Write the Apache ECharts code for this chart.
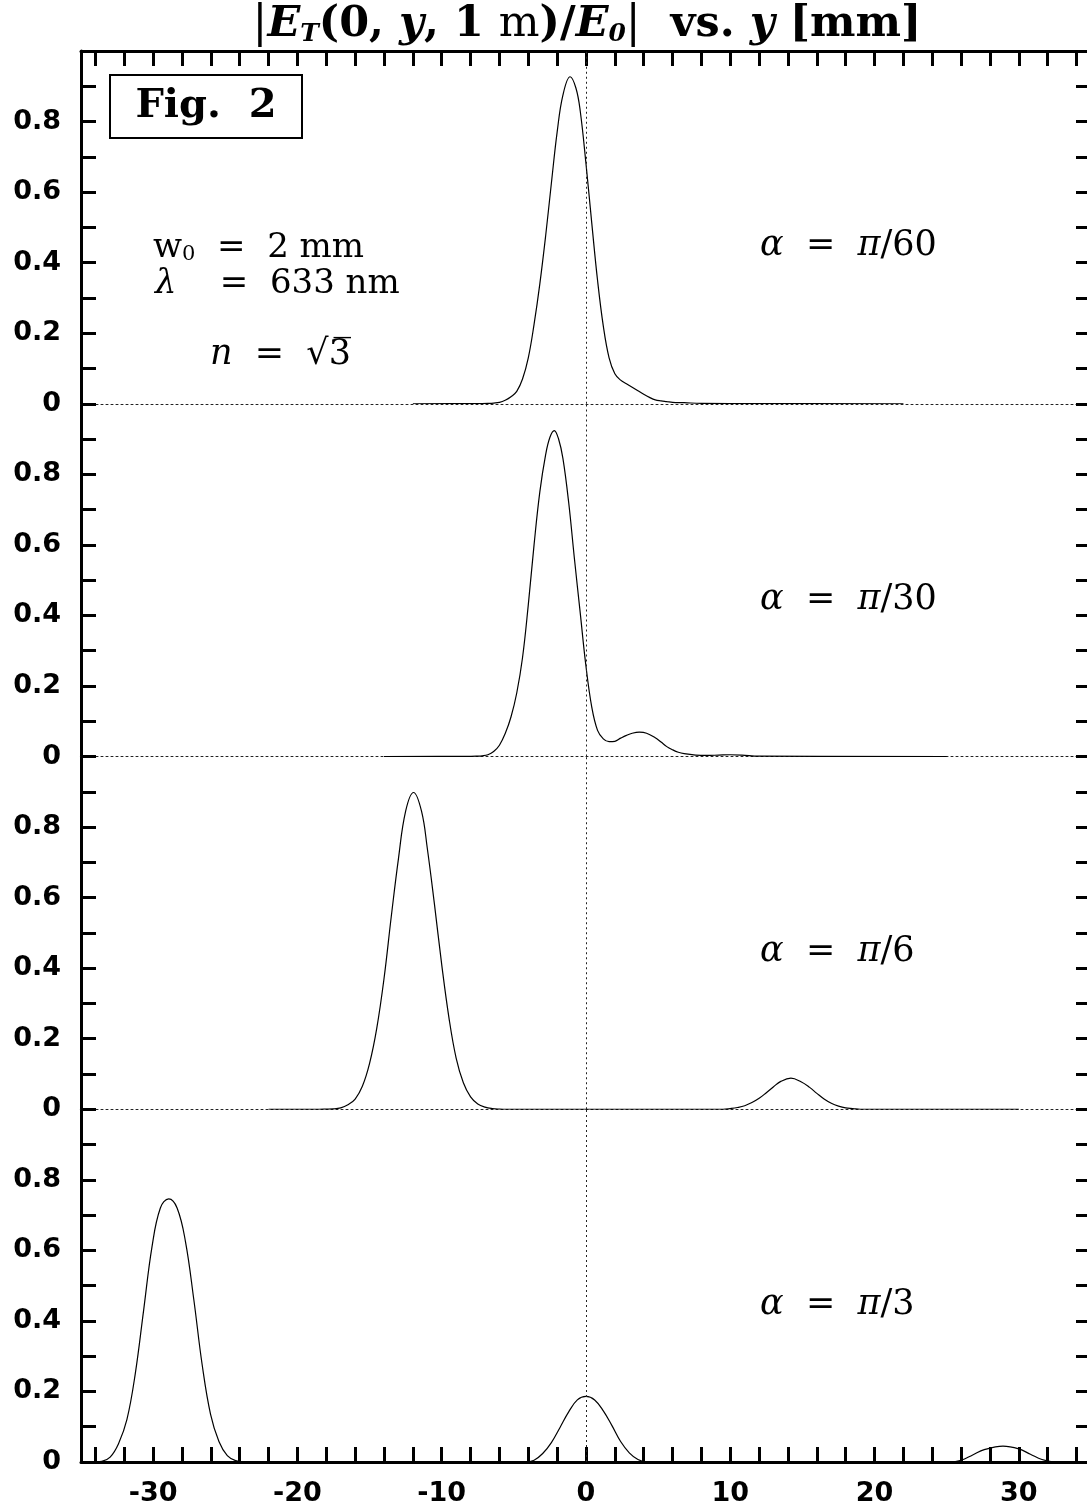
<!DOCTYPE html>
<html><head><meta charset="utf-8">
<script src="https://cdn.jsdelivr.net/npm/echarts@6/dist/echarts.min.js"></script>
<style>html,body{margin:0;padding:0;background:#fff}#c{width:1087px;height:1510px}</style>
</head><body><div id="c"></div>
<script>
// ---- tick / label values ----
const xTickValues = [-34,-32,-30,-28,-26,-24,-22,-20,-18,-16,-14,-12,-10,-8,-6,-4,-2,0,2,4,6,8,10,12,14,16,18,20,22,24,26,28,30,32,34];
const xLabelValues = [-30,-20,-10,0,10,20,30];
const yLabelValues = [0,0.2,0.4,0.6,0.8];
const panelAlpha = ['60','30','6','3'];

// ---- panel 1: alpha = pi/60 (y in mm, |E_T/E_0|) ----
const y1 = [-12,-8,-7.2,-6.8,-6.4,-6.0,-5.6,-5.2,-4.8,-4.4,-4.0,-3.6,-3.2,-2.8,-2.4,-2.0,-1.6,-1.1,-0.7,-0.4,0.0,0.4,0.8,1.2,1.6,2.0,2.4,2.8,3.2,3.6,4.0,4.4,4.8,5.2,5.6,6.0,6.8,8,12,22];
const e1 = [0,0.0003,0.0005,0.001,0.002,0.004,0.010,0.02,0.035,0.07,0.13,0.225,0.34,0.475,0.625,0.77,0.875,0.927,0.895,0.83,0.68,0.512,0.35,0.22,0.13,0.085,0.067,0.057,0.047,0.037,0.027,0.018,0.011,0.008,0.006,0.004,0.003,0.001,0.0005,0];
// ---- panel 2: alpha = pi/30 ----
const y2 = [-14,-8.4,-8.0,-7.6,-7.2,-6.8,-6.4,-6.0,-5.6,-5.2,-4.8,-4.4,-4.0,-3.6,-3.2,-2.8,-2.5,-2.2,-1.9,-1.6,-1.2,-0.8,-0.4,0.0,0.4,0.8,1.2,1.6,2.0,2.4,2.8,3.2,3.7,4.2,4.8,5.2,5.6,6.0,6.4,6.8,7.6,8.4,9.2,10.0,10.8,12,25];
const e2 = [0,0.0003,0.0005,0.001,0.002,0.005,0.014,0.032,0.065,0.112,0.18,0.28,0.43,0.6,0.75,0.855,0.905,0.924,0.9,0.845,0.72,0.56,0.407,0.255,0.14,0.074,0.05,0.042,0.043,0.052,0.06,0.066,0.069,0.066,0.053,0.041,0.028,0.019,0.012,0.008,0.004,0.003,0.004,0.005,0.004,0.001,0];
// ---- panel 3: alpha = pi/6 ----
const y3 = [-22,-18.5,-18,-17.5,-17,-16.5,-16,-15.5,-15,-14.5,-14,-13.5,-13,-12.5,-11.95,-11.4,-11,-10.5,-10,-9.5,-9,-8.5,-8,-7.5,-7,-6.5,-6,-5.5,0,9.5,10,10.5,11,11.5,12,12.5,13,13.5,14.2,14.9,15.5,16,16.5,17,17.5,18,18.5,19,30];
const e3 = [0,0,0.0004,0.001,0.004,0.013,0.029,0.065,0.13,0.23,0.37,0.545,0.71,0.845,0.898,0.845,0.74,0.58,0.41,0.26,0.145,0.075,0.035,0.015,0.006,0.002,0.0005,0,0,0,0.002,0.005,0.01,0.019,0.031,0.047,0.064,0.079,0.088,0.078,0.062,0.045,0.029,0.017,0.009,0.004,0.002,0,0];
// ---- panel 4: alpha = pi/3 ----
const y4 = [-34.2,-33.56,-32.98,-32.4,-31.82,-31.24,-30.66,-30.08,-29.5,-28.92,-28.34,-27.76,-27.18,-26.6,-26.02,-25.44,-24.86,-24.28,-23.7,-10,-4.8,-4.2,-3.6,-3.0,-2.4,-1.8,-1.2,-0.6,0,0.6,1.2,1.8,2.4,3.0,3.6,4.2,4.8,15,24.4,25.2,26.0,26.8,27.6,28.9,30.0,30.8,31.6,32.4];
const e4 = [0,0.002,0.014,0.052,0.12,0.25,0.43,0.61,0.72,0.746,0.72,0.625,0.46,0.275,0.135,0.058,0.018,0.004,0,0,0,0,0.005,0.024,0.055,0.098,0.142,0.176,0.186,0.176,0.145,0.103,0.058,0.026,0.007,0,0,0,0,0,0.005,0.02,0.035,0.045,0.037,0.022,0.007,0];

const panels = [[y1,e1],[y2,e2],[y3,e3],[y4,e4]];

const TOP = 51, PH = 352.75, LEFT = 81, W = 1010;
const grids = [], xAxes = [], yAxes = [], series = [];
const tickStyle = {show:true, inside:true, length:15, lineStyle:{color:'#000', width:3}};
const labelFont = {color:'#000', fontFamily:'DejaVu Sans', fontWeight:'bold', fontSize:27};

panels.forEach((p, i) => {
  grids.push({left: LEFT, width: W, top: TOP + i*PH, height: PH, outerBoundsMode:'none', containLabel:false});
  const last = i === 3;
  xAxes.push({
    type:'value', gridIndex:i, min:-35, max:35, position:'bottom',
    axisLine:{show:true, onZero:false, lineStyle: last ? {color:'#000', width:3} : {color:'#222', width:1, type:[2,3]}},
    axisTick: last ? Object.assign({customValues: xTickValues}, tickStyle) : {show:false},
    axisLabel: last ? Object.assign({show:true, customValues: xLabelValues, margin:18}, labelFont) : {show:false},
    splitLine:{show:false}
  });
  yAxes.push({
    type:'value', gridIndex:i, min:0, max:1, interval:0.1, position:'left',
    axisLine:{show:true, onZero:false, lineStyle:{color:'#000', width:3}},
    axisTick: tickStyle,
    axisLabel: Object.assign({show:true, customValues: yLabelValues, margin:20,
      formatter: v => (v === 0 ? '0' : String(Math.round(v*10)/10))}, labelFont),
    splitLine:{show:false}
  });
  series.push({
    type:'line', xAxisIndex:i, yAxisIndex:i, data: p[0].map((x,k)=>[x, p[1][k]]),
    showSymbol:false, smooth:0.4, lineStyle:{color:'#000', width:1.2}, silent:true,
    markLine:{silent:true, symbol:['none','none'], label:{show:false},
      lineStyle:{color:'#222', width:1, type:[2,3]}, data:[{xAxis:0}]}
  });
});
// top frame axis
xAxes.push({type:'value', gridIndex:0, min:-35, max:35, position:'top',
  axisLine:{show:true, onZero:false, lineStyle:{color:'#000', width:3}},
  axisTick:Object.assign({customValues:xTickValues}, tickStyle), axisLabel:{show:false}, splitLine:{show:false}});
// right frame axes
for (let i=0;i<4;i++) {
  yAxes.push({type:'value', gridIndex:i, min:0, max:1, interval:0.1, position:'right',
    axisLine:{show:true, onZero:false, lineStyle:{color:'#000', width:3}},
    axisTick:tickStyle, axisLabel:{show:false}, splitLine:{show:false}});
}

const serif = 'DejaVu Serif';
const rt = (size, weight, style) => ({fontFamily:serif, fontSize:size, fontWeight:weight||'normal', fontStyle:style||'normal', fill:'#000'});
const graphic = [
  {type:'text', x:587, y:25, style:{
    text:'{n||}{bi|E}{sub|T}{b|(0, }{bi|y}{b|, 1 }{r|m}{b|)/}{bi|E}{sub|0}{n||}{b|  vs. }{bi|y}{b| [mm]}',
    align:'center', verticalAlign:'middle', fill:'#000',
    rich:{n:rt(44), b:rt(43,'bold'), bi:rt(43,'bold','italic'), r:rt(43), sub:Object.assign(rt(25,'bold','italic'),{verticalAlign:'bottom'})}}},
  {type:'rect', shape:{x:110, y:75, width:192, height:63}, style:{fill:'#fff', stroke:'#000', lineWidth:2}},
  {type:'text', x:206, y:107, style:{text:'Fig.  2', align:'center', verticalAlign:'middle', font:'bold 40px "DejaVu Serif"', fill:'#000'}},
  {type:'text', x:153, y:248, style:{text:'{r|w}{sub|0}{r|  =  2 mm}', align:'left', verticalAlign:'middle', fill:'#000',
    rich:{r:rt(34), sub:Object.assign(rt(21),{verticalAlign:'bottom'})}}},
  {type:'text', x:155, y:284, style:{text:'{i|λ}{r|    =  633 nm}', align:'left', verticalAlign:'middle', fill:'#000',
    rich:{r:rt(34), i:rt(34,'normal','italic')}}},
  {type:'text', x:210, y:355, style:{text:'{i|n}{r|  =  √3\u0305}', align:'left', verticalAlign:'middle', fill:'#000',
    rich:{r:rt(35), i:rt(35,'normal','italic')}}}
];
const alphaY = [246, 600, 952, 1305];
panelAlpha.forEach((a,i) => {
  graphic.push({type:'text', x:760, y:alphaY[i], style:{text:'{i|α}{r|  =  }{i|π}{r|/'+a+'}', align:'left', verticalAlign:'middle', fill:'#000',
    rich:{r:rt(35), i:rt(35,'normal','italic')}}});
});

const chart = echarts.init(document.getElementById('c'), null, {renderer:'canvas'});
chart.setOption({
  animation:false, backgroundColor:'#fff',
  grid:grids, xAxis:xAxes, yAxis:yAxes, series:series, graphic:graphic
});
</script></body></html>
